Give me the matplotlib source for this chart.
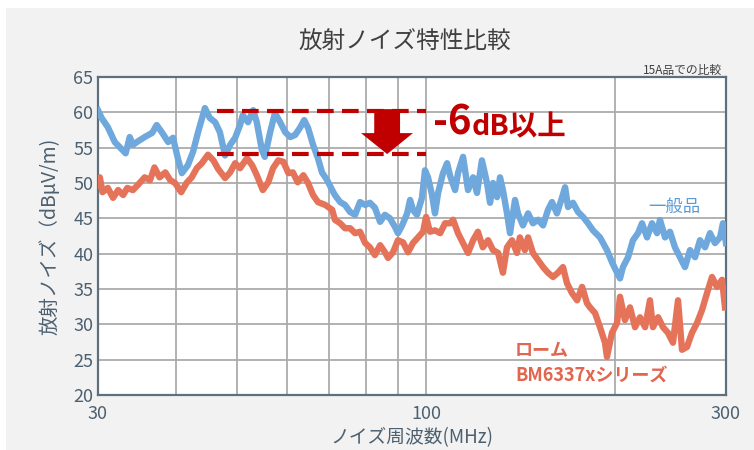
import matplotlib
matplotlib.use('Agg')
import matplotlib.pyplot as plt
from matplotlib.patches import Rectangle, Polygon
from matplotlib.ticker import FixedLocator, NullFormatter

plt.rcParams['font.family'] = ['Noto Sans CJK JP', 'DejaVu Sans']

# general product (blue), frequency in MHz / level in dBuV/m
blue_freq = [30.0, 30.4, 31.1, 31.9, 32.8, 33.2, 33.7, 34.1, 34.6, 35.6,
             36.6, 37.2, 37.9, 38.8, 39.5, 40.2, 40.8, 41.7, 42.5, 43.3,
             44.4, 45.2, 46.1, 46.9, 47.8, 48.7, 49.6, 50.5, 51.0, 52.0,
             53.0, 53.7, 54.7, 55.3, 56.4, 57.4, 58.5, 59.6, 60.7, 61.8,
             62.9, 63.9, 64.8, 66.0, 67.2, 68.2, 69.5, 70.8, 71.5, 72.9,
             74.2, 75.6, 77.0, 78.4, 79.9, 81.3, 82.8, 84.4, 85.9, 87.5,
             89.1, 90.1, 91.5, 93.2, 94.2, 95.2, 96.6, 98.4, 99.5, 100.6,
             102.1, 103.2, 104.4, 106.3, 107.9, 109.1, 111.1, 112.3, 114.4, 116.5,
             118.7, 120.4, 122.6, 124.9, 126.3, 127.7, 129.6, 131.0, 132.4, 134.4,
             135.9, 138.4, 139.9, 142.5, 145.2, 147.8, 150.6, 153.4, 156.2, 158.5,
             161.4, 164.4, 166.3, 168.1, 171.2, 174.4, 177.6, 180.9, 184.2, 189.0,
             193.9, 197.5, 201.2, 203.4, 205.6, 209.5, 213.3, 217.3, 220.5, 224.6,
             228.7, 233.0, 235.5, 239.9, 244.3, 248.8, 253.4, 258.1, 262.9, 267.8,
             272.7, 277.8, 282.9, 288.1, 293.5, 296.7, 300.0]
blue_db = [60.3, 59.2, 57.9, 55.8, 54.7, 54.2, 56.5, 55.4, 55.8, 56.5,
           57.1, 58.2, 57.2, 55.8, 56.4, 53.5, 51.4, 52.5, 54.4, 57.2,
           60.6, 59.2, 58.6, 57.2, 53.9, 55.4, 56.4, 58.2, 59.6, 58.6,
           60.3, 58.6, 54.7, 53.7, 57.2, 59.9, 58.6, 57.2, 56.5, 56.8,
           57.8, 58.9, 57.8, 55.4, 53.5, 51.5, 50.4, 49.0, 48.3, 47.3,
           46.9, 45.9, 45.5, 47.3, 46.9, 47.2, 46.5, 44.5, 45.5, 45.0,
           43.8, 42.9, 44.0, 45.7, 47.6, 46.2, 45.5, 47.9, 51.8, 50.8,
           48.3, 45.7, 48.6, 51.4, 52.8, 51.0, 49.0, 51.4, 53.7, 49.0,
           50.8, 48.6, 53.2, 50.0, 47.2, 50.0, 48.0, 50.8, 49.0, 45.7,
           42.9, 47.6, 45.7, 44.0, 45.7, 44.3, 44.8, 44.0, 46.2, 47.3,
           45.7, 47.9, 49.4, 46.6, 47.2, 45.9, 45.2, 44.3, 43.3, 42.3,
           40.5, 38.8, 37.3, 36.5, 38.1, 39.5, 41.9, 42.9, 44.3, 42.3,
           44.3, 42.9, 44.8, 42.3, 43.1, 40.9, 39.5, 38.1, 40.5, 39.5,
           41.9, 40.9, 42.9, 41.5, 42.3, 44.3, 41.5]

# ROHM BM6337x series (orange)
rohm_freq = [30.0, 30.2, 30.5, 31.1, 31.7, 32.3, 32.9, 33.4, 34.1, 34.7,
             35.6, 36.3, 36.9, 37.6, 38.4, 39.1, 39.8, 40.7, 41.5, 42.3,
             43.1, 43.9, 44.9, 45.8, 46.6, 47.8, 48.7, 49.6, 50.5, 51.8,
             52.8, 53.7, 54.9, 56.0, 57.0, 58.1, 59.2, 60.3, 61.3, 62.4,
             63.7, 64.8, 66.0, 67.2, 69.0, 70.8, 71.5, 72.9, 74.2, 75.6,
             77.0, 78.4, 79.9, 81.3, 82.8, 84.4, 85.9, 86.9, 88.5, 90.1,
             91.8, 93.5, 95.2, 97.0, 98.8, 99.9, 101.3, 103.2, 105.2, 107.1,
             109.1, 110.3, 112.3, 114.4, 116.5, 118.7, 120.8, 123.0, 125.4, 127.7,
             130.1, 132.4, 134.4, 136.9, 139.4, 140.9, 143.5, 145.2, 147.8, 150.6,
             153.4, 156.2, 159.1, 162.0, 165.0, 167.5, 170.6, 173.8, 177.0, 180.2,
             182.2, 185.6, 189.0, 192.5, 193.9, 197.5, 201.2, 203.4, 207.1, 211.0,
             214.9, 218.9, 223.0, 227.0, 229.5, 233.9, 238.1, 242.5, 247.0, 251.6,
             255.3, 260.0, 264.8, 269.8, 274.7, 279.8, 285.0, 290.2, 295.7, 298.9]
rohm_db = [49.7, 50.8, 48.7, 49.3, 47.9, 49.0, 48.3, 49.3, 49.0, 49.7,
           50.8, 50.4, 52.2, 50.8, 51.5, 50.4, 50.0, 48.7, 50.0, 50.8,
           52.1, 52.8, 54.0, 53.2, 52.0, 50.7, 51.5, 52.8, 52.1, 53.5,
           52.5, 51.1, 49.0, 50.1, 52.1, 53.2, 53.0, 51.4, 51.5, 50.1,
           51.1, 50.0, 48.3, 47.3, 46.9, 46.2, 44.8, 44.3, 43.6, 43.6,
           42.9, 43.1, 41.5, 40.9, 39.8, 41.2, 40.2, 39.4, 40.2, 41.9,
           41.6, 40.2, 41.5, 42.3, 43.1, 45.2, 43.1, 43.3, 42.9, 44.3,
           44.3, 44.8, 42.9, 41.5, 40.1, 41.9, 43.1, 40.9, 41.9, 40.5,
           40.1, 37.3, 40.9, 41.9, 40.1, 42.3, 40.5, 42.3, 40.1, 39.1,
           38.1, 37.3, 36.7, 37.3, 38.1, 35.8, 34.4, 33.4, 35.3, 33.0,
           32.4, 31.6, 29.6, 27.4, 25.4, 28.8, 30.2, 33.9, 30.6, 32.4,
           29.6, 31.0, 29.6, 33.4, 29.6, 31.0, 29.6, 28.8, 27.4, 33.4,
           26.4, 26.8, 28.8, 30.2, 32.0, 34.4, 36.7, 35.3, 36.3, 32.4]

# -6dB annotation: dashed levels and arrow (MHz / dB)
band_start, band_end = 46.4, 100.0
band_top, band_bottom = 60.2, 54.1
arrow_x = [82.6, 90.8, 90.8, 95.2, 86.6, 78.7, 82.6]
arrow_y = [60.45, 60.45, 57.06, 57.06, 54.1, 57.06, 57.06]

blue_c = '#6fa8dc'
rohm_c = '#e4735a'
red_c = '#c00000'
axis_c = '#5d7080'
text_c = '#4d6070'

fig = plt.figure(figsize=(7.54, 4.5), dpi=100, facecolor='white')
fig.patches.append(Rectangle((6 / 754, 0), 1, 442 / 450, transform=fig.transFigure,
                             facecolor='#f2f2f2', edgecolor='none', zorder=-10))
ax = fig.add_axes([98 / 754, 55 / 450, 628 / 754, 318 / 450])
ax.set_facecolor('white')

ax.plot(rohm_freq, rohm_db, color=rohm_c, lw=4.6, solid_joinstyle='round', zorder=3)
ax.plot(blue_freq, blue_db, color=blue_c, lw=4.6, solid_joinstyle='round', zorder=4)

ax.set_xscale('log')
ax.set_xlim(30, 300)
ax.set_ylim(20, 65)
ax.xaxis.set_major_locator(FixedLocator([30, 100, 300]))
ax.xaxis.set_major_formatter(plt.FuncFormatter(lambda v, p: '%d' % v))
ax.xaxis.set_minor_locator(FixedLocator([40, 50, 60, 70, 80, 90, 200]))
ax.xaxis.set_minor_formatter(NullFormatter())
ax.set_yticks(range(20, 66, 5))
ax.grid(True, which='both', color='#ababab', lw=1.3, zorder=1)
ax.set_axisbelow(True)
ax.tick_params(which='both', length=0, labelsize=13, colors=text_c)
ax.tick_params(axis='x', pad=7)
for s in ax.spines.values():
    s.set_color(axis_c)
    s.set_linewidth(1.6)

ax.set_xlabel('ノイズ周波数(MHz)', fontsize=13.5, color=text_c, labelpad=3)
ax.set_ylabel('放射ノイズ（dBμV/m)', fontsize=14, color=text_c, labelpad=9)
fig.text(0.537, 0.905, '放射ノイズ特性比較', fontsize=17, color='#404040', ha='center', va='center')
fig.text(722 / 754, 380 / 450, '15A品での比較', fontsize=8.5, color='#404040', ha='right', va='center')

# annotation
for lvl in (band_top, band_bottom):
    ax.plot([band_start, band_end], [lvl, lvl], color=red_c, lw=3, dashes=(4, 2), zorder=5)
ax.add_patch(Polygon(list(zip(arrow_x, arrow_y)), closed=True, facecolor=red_c,
                     edgecolor='none', zorder=6))
ax.text(102.4, 56.8, '-6', fontsize=29, fontweight='bold', color=red_c, ha='left', va='baseline', zorder=6)
ax.text(118.0, 56.8, 'dB以上', fontsize=20.5, fontweight='bold', color=red_c, ha='left', va='baseline', zorder=6)

ax.text(247.8, 46.6, '一般品', fontsize=12.5, color='#5b9bd5', ha='center', va='center', zorder=7,
        bbox=dict(facecolor='white', edgecolor='none', pad=1))
ax.text(138.4, 24.6, 'ローム\nBM6337xシリーズ', fontsize=13, fontweight='bold', color='#e2654f',
        ha='left', va='center', linespacing=1.35, zorder=7)

fig.savefig('out.png', dpi=100, facecolor=fig.get_facecolor())
